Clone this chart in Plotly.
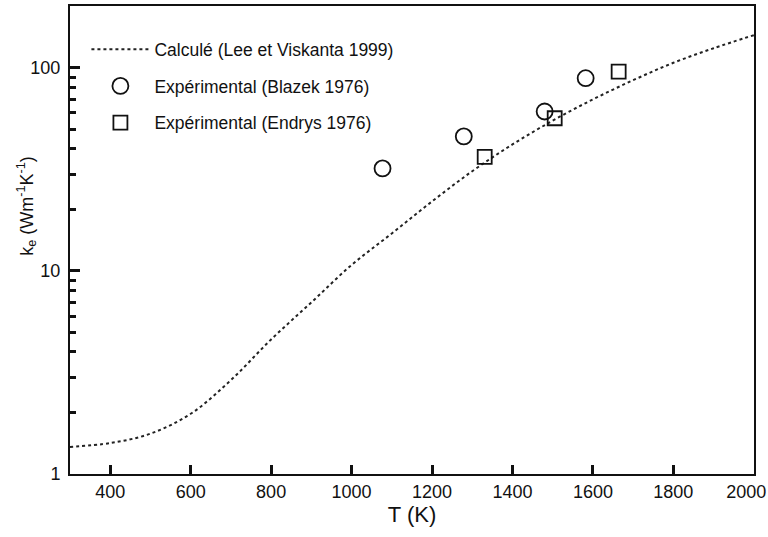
import numpy as np
import plotly.graph_objects as go

# calculated curve (Lee et Viskanta 1999)
t_calc = [300, 400, 500, 600, 700, 800, 900, 1000, 1100, 1200, 1300, 1400,
          1500, 1600, 1700, 1800, 1900, 2000]
k_calc = [1.36, 1.42, 1.58, 1.98, 2.9, 4.6, 7.0, 10.7, 15.3, 22, 31, 42,
          55, 70, 87, 106, 125, 145]

# experimental points
t_blazek = [1077, 1279, 1480, 1582]
k_blazek = [32, 46, 61, 89]
t_endrys = [1331, 1505, 1664]
k_endrys = [36.5, 56.5, 96]

# axis ticks
x_ticks = [400, 600, 800, 1000, 1200, 1400, 1600, 1800, 2000]
x_labels = ["400", "600", "800", "1000", "1200", "1400", "1600", "1800",
            "2000\u00a0\u00a0\u00a0"]
y_ticks = [1, 10, 100]

font = "Liberation Sans, Arial, sans-serif"
ink = "#111111"

fig = go.Figure()

fig.add_trace(go.Scatter(
    x=t_calc, y=k_calc, mode="lines", line_shape="spline",
    line=dict(color="#222222", width=2, dash="dot"),
    name="Calculé (Lee et Viskanta 1999)", legendgroup="a",
))
fig.add_trace(go.Scatter(
    x=t_blazek, y=k_blazek, mode="markers",
    marker=dict(symbol="circle-open", size=16, color=ink, line=dict(width=1.8)),
    name="Expérimental (Blazek 1976)", legendgroup="b",
))
fig.add_trace(go.Scatter(
    x=t_endrys, y=k_endrys, mode="markers",
    marker=dict(symbol="square-open", size=14, color=ink, line=dict(width=1.8)),
    name="Expérimental (Endrys 1976)", legendgroup="c",
))

fig.update_layout(
    width=768, height=537,
    margin=dict(l=70, r=14, t=6, b=63),
    paper_bgcolor="white", plot_bgcolor="white",
    font=dict(family=font, size=18, color=ink),
    legend=dict(x=0.024, y=0.946, xanchor="left", yanchor="top",
                bgcolor="rgba(0,0,0,0)", tracegroupgap=11, itemwidth=58,
                font=dict(size=17.5)),
    annotations=[dict(
        text="k<sub>e</sub> (Wm<sup>-1</sup>K<sup>-1</sup>)",
        xref="paper", yref="paper", x=-0.063, y=0.573,
        xanchor="center", yanchor="middle", textangle=-90,
        showarrow=False, font=dict(size=18),
    )],
)

fig.update_xaxes(
    range=[300, 2000.5], tickmode="array", tickvals=x_ticks, ticktext=x_labels,
    ticks="inside", ticklen=9, tickwidth=2.5, tickcolor=ink,
    ticklabeloverflow="allow", automargin=False,
    showline=True, linewidth=2, linecolor=ink, mirror=True,
    showgrid=False, zeroline=False,
    title=dict(text="T (K)", standoff=2),
)
fig.update_yaxes(
    type="log", range=[0, 2.305], tickmode="array", tickvals=y_ticks,
    ticks="inside", ticklen=10, tickwidth=2.5, tickcolor=ink,
    minor=dict(ticks="inside", ticklen=6, tickwidth=2.5, tickcolor=ink, dtick="D1"),
    ticklabelstandoff=4, automargin=False,
    showline=True, linewidth=2, linecolor=ink, mirror=True,
    showgrid=False, zeroline=False,
)

fig.write_html("out.html", config={"displayModeBar": False},
               post_script="document.body.style.margin='0px';")
